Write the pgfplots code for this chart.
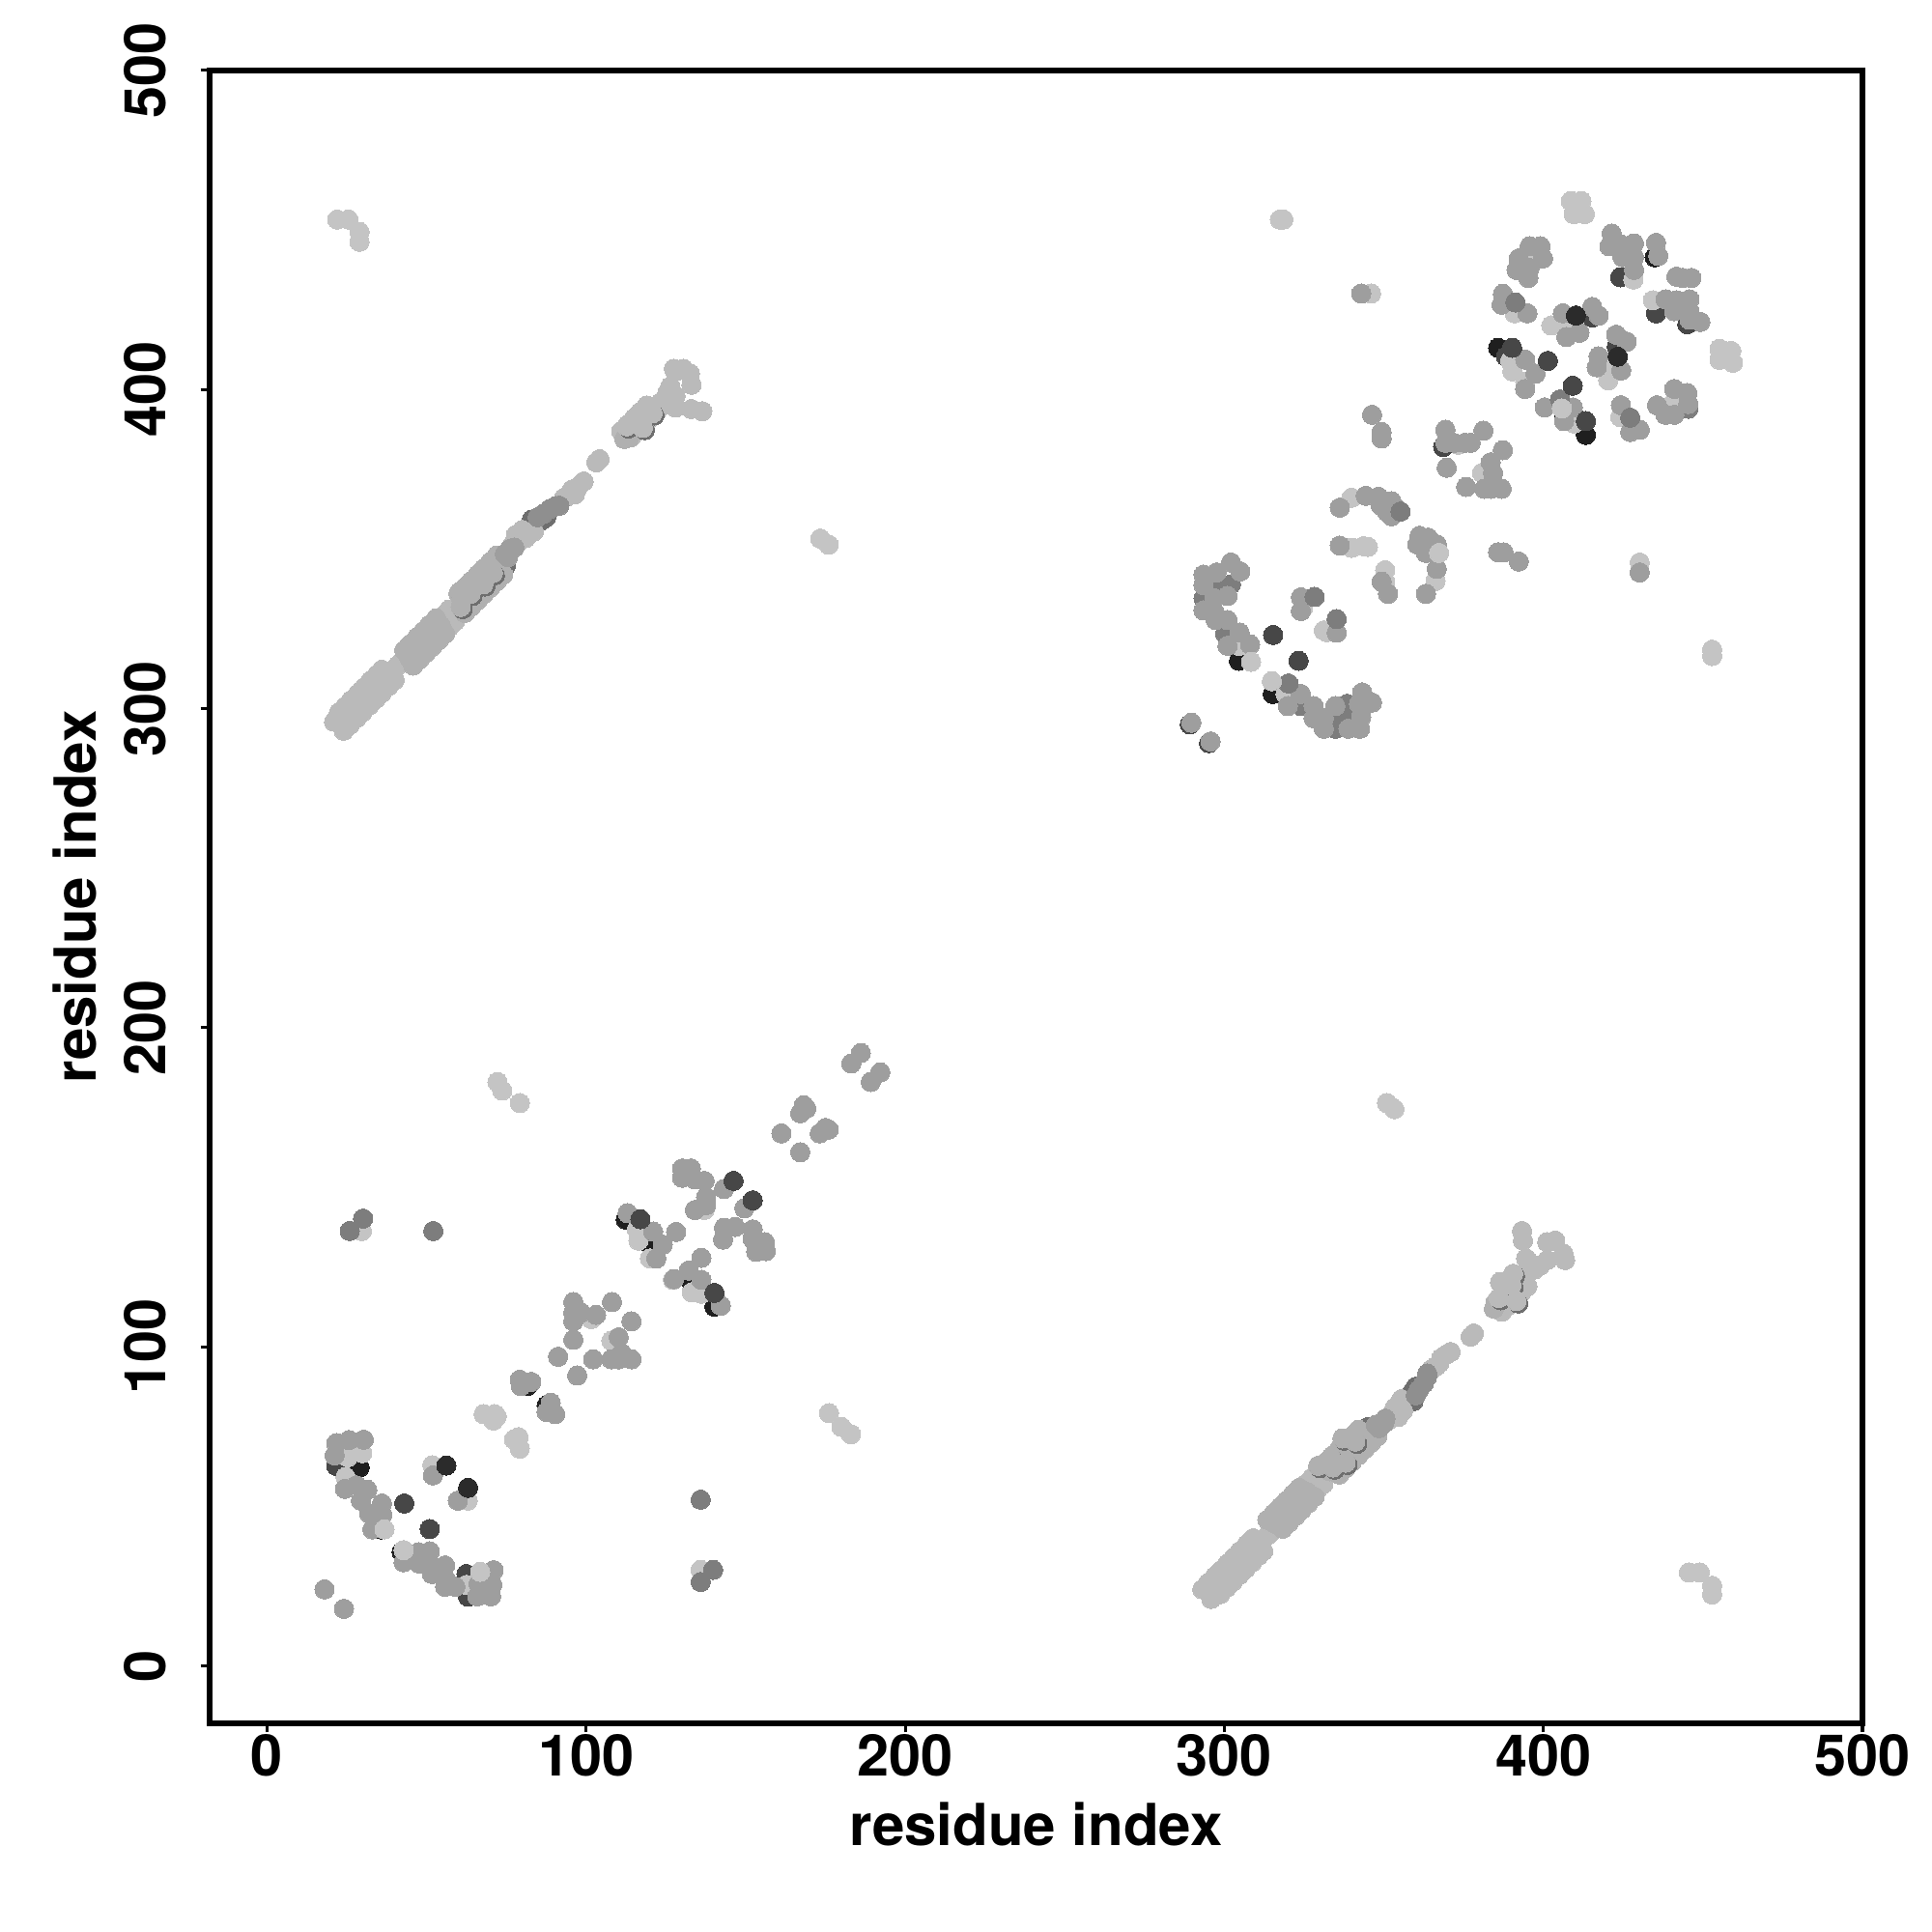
\documentclass[border=0pt]{standalone}
\usepackage{fontspec}
\setmainfont{TeX Gyre Heros}
\usepackage{pgfplots}
\pgfplotsset{compat=1.18}
\definecolor{gblack}{gray}{0.12}
\definecolor{gdark}{gray}{0.28}
\definecolor{gunder}{gray}{0.43}
\definecolor{gslate}{gray}{0.49}
\definecolor{gsteel}{gray}{0.56}
\definecolor{glight}{gray}{0.77}
\definecolor{gband}{gray}{0.73}
\definecolor{gbm}{gray}{0.69}
\definecolor{gmid}{gray}{0.62}
\definecolor{gink}{gray}{0.17}
\pgfplotsset{dot/.style={only marks,mark=*,mark size=3.6pt,color=#1,mark options={line width=0pt}}}
\begin{document}
\begin{tikzpicture}
\path[use as bounding box] (-78.12pt,-77.76pt) rectangle (641.88pt,642.24pt);
\begin{axis}[
  at={(0pt,0pt)},anchor=south west,
  scale only axis,width=615.96pt,height=615.96pt,
  xmin=-18,xmax=500,ymin=-18,ymax=500,
  xtick={0,100,...,500},ytick={0,100,...,500},
  xtick pos=left,ytick pos=left,tick align=outside,
  major tick length=3.4pt,
  every tick/.style={black,line width=1.1pt},
  axis line style={line width=2.2pt},
  /pgf/number format/assume math mode=true,
  ticklabel style={font=\fontsize{21.4}{25}\selectfont\bfseries},
  xticklabel style={anchor=center,yshift=-8.5pt},
  yticklabel style={rotate=90,anchor=center,yshift=20.6pt},
  xlabel={residue index},ylabel={residue index},
  label style={font=\fontsize{21.6}{25}\selectfont\bfseries},
  xlabel style={at={(axis description cs:0.5,0)},anchor=center,yshift=-37.7pt},
  ylabel style={at={(axis description cs:0,0.5)},anchor=center,yshift=50.4pt},
]
% under, almost black
\addplot[dot=gblack] coordinates {(24.6,62)(29,62.2)(35.7,42.8)(42.2,35.7)(81.5,87.7)(87.6,81.6)
 (112.4,139.9)(120,135.8)(120,132.1)(132.6,121)(140.2,112.6)
 (304.6,315)(315.2,304.6)(392.3,409.7)(385.8,413.1)(413.3,385.8)(434.9,441.5)(406.5,392.5)};
% under, dark
\addplot[dot=gdark] coordinates {(21.7,62.7)(62.5,28.8)(63,21.7)(368.6,382)(415.3,422.6)
 (289.2,295.1)(295.2,289.2)(424.1,435.2)(435.3,423.9)(445.1,420.5)(423,413.5)(388.3,410.4)(409.5,392)};
% under, the band tips
\addplot[dot=gunder] coordinates {(74.8,344.8)(83,359.3)(84.5,358.5)(86,359)(87.5,360)
 (344.8,74.8)(359.3,83)(358.5,84.5)(359,86)(360,87.5)};
\addplot[dot=gslate] coordinates {(297.6,338.7)(302.1,339)(293.5,334.6)(300.3,323.5)(324,300.8)(334.8,297)
 (334.8,293.7)(338.5,301.5)(338.2,297.4)(445.4,394)};
% light
\addplot[dot=glight] coordinates {(25.3,65.4)(29.8,66.7)(24.6,59.2)(51.8,62.9)(62.9,51.8)(62.5,25.4)
 (71.3,78.9)(67.9,78.9)(72,78.2)(70.9,76.9)(77.4,71)(78.8,71.7)(79.2,68.1)
 (101.7,108.7)(107.9,101.9)(115.9,136.8)(116.4,133.3)(120,127.7)(127.2,121)(133.1,117.1)(136.1,116.6)(137.1,142.9)
 (72.2,183)(73.7,180.3)(79.2,176.4)(135.9,30.1)(176.1,79.2)(180,74.9)(183,72.6)(29.7,136.3)
 (22,453.3)(25.5,453.3)(29,449.4)(29,446.3)(317.4,453.3)(318.5,453.3)(346,430.1)
 (173.4,353.3)(176,351.4)(351,176.4)(353.3,174.5)(445.6,29.3)(449,29.3)(452.9,25.1)(452.9,22.4)
 (452.9,316.5)(452.9,318.5)(430.2,345.8)
 (304.6,319.7)(319.2,304.6)(324.7,331.6)(331.2,324.5)(332.1,324)(339.9,366.1)(339.9,350.4)(343.6,350.9)(345,350.7)
 (350.4,343.4)(350.4,339.8)(366.2,340)(373.4,382.7)(380.8,373.9)
 (408.6,459.1)(411.9,459.1)(409.5,455)(413,455)(455.2,412.8)(458.9,412.1)(455.2,409.3)(459.4,408.4)
 (395.7,440.8)(428.2,434.5)(434.3,428)(391,423.9)(402.5,420.1)(406.5,419.9)(389.6,409)(390.3,405.7)(394.3,402.5)
 (420.3,402.9)(419.5,406)(409.6,389.4)(424.1,391.4)(440.4,395.5)};
% diagonal bands, the lighter stretches
\addplot[dot=gband] coordinates {(21,295.9)(22.5,298.7)(24.5,300.7)(26.5,302.7)(28.5,304.7)(30.5,306.7)(32.5,308.7)(34.5,310.7)(36,312.2)
 (24,293.1)(26,295)(28,297)(30,299)(32,301)(34,303)(36,305)(38,307)(40,309)
 (23.5,296.5)(25.5,298.5)(27.5,300.5)(29.5,302.5)(31.5,304.5)(33.5,306.5)(35.5,308.5)(37.5,310.5)
 (39.5,312)(41,313.6)(42,314.6)(55,329)(57,331)(57,325.5)(59,327.5)(56,327.5)(58,329.5)
 (77,351.4)(78,354.5)(79,352.5)(80,356)(81,353.5)(82,354.5)(83.6,355.5)
 (93.1,366.1)(94,366.5)(95.6,368.7)(96.5,367.2)(97.5,369.5)(99.2,371.2)(103.2,377.2)(104.2,378.2)
 (111,387)(113,389)(115,391)(117,393)(119,395)(114,385)(116,387)(118,389)(120,391)(122,393)(124,395)
 (123.4,396)(125.9,397)(126.4,401)(128,394.4)(129,406)(127.5,406.5)(130.5,406.5)(132.5,405)(133,401.5)(133,393.9)(136.4,393.2)(125.5,399)(128,398)
 (295.9,21)(298.7,22.5)(300.7,24.5)(302.7,26.5)(304.7,28.5)(306.7,30.5)(308.7,32.5)(310.7,34.5)(312.2,36)
 (293.1,24)(295,26)(297,28)(299,30)(301,32)(303,34)(305,36)(307,38)(309,40)
 (296.5,23.5)(298.5,25.5)(300.5,27.5)(302.5,29.5)(304.5,31.5)(306.5,33.5)(308.5,35.5)(310.5,37.5)
 (312,39.5)(313.6,41)(314.6,42)(329,55)(331,57)(325.5,57)(327.5,59)(327.5,56)(329.5,58)
 (351.4,77)(354.5,78)(352.5,79)(356,80)(353.5,81)(354.5,82)(355.5,83.6)
 (364.8,92.9)(366.5,94)(367.4,94.9)(368,96.5)(369.5,97.5)(370.9,98.4)(377.2,103.2)(378.2,104.2)
 (387,111)(389,113)(391,115)(393,117)(395,119)(385,114)(387,116)(389,118)(391,120)(393,122)(395,124)
 (393.3,136.3)(393.6,133.3)(394.6,127.7)(401.2,132.8)(403.7,133.3)(406.3,129.2)(406.8,127.2)(397.2,124.2)(401.2,127.2)(399,125.5)};
% diagonal bands, the streaked stretches
\addplot[dot=gbm] coordinates {(43,318.3)(45,320.3)(47,322.3)(49,324.3)(51,326.3)(53,328.3)
 (45.8,313.5)(47.8,315.5)(49.8,317.5)(51.8,319.5)(53.8,321.5)(55.8,323.5)
 (44.5,316)(46.5,318)(48.5,320)(50.5,322)(52.5,324)(54.5,326)
 (60,336)(62,338)(64,340)(66,342)(68,344)(70,346)(72,348)
 (61,333)(63,335)(65,337)(67,339)(69,341)(71,343)(73,345)
 (62,330)(64,332)(66,334)(68,336)(70,338)(72,340)(74,342)
 (112,384.5)(113.5,385)
 (318.3,43)(320.3,45)(322.3,47)(324.3,49)(326.3,51)(328.3,53)
 (313.5,45.8)(315.5,47.8)(317.5,49.8)(319.5,51.8)(321.5,53.8)(323.5,55.8)
 (316,44.5)(318,46.5)(320,48.5)(322,50.5)(324,52.5)(326,54.5)
 (336,60)(338,62)(340,64)(342,66)(344,68)(346,70)(348,72)
 (333,61)(335,63)(337,65)(339,67)(341,69)(343,71)(345,73)
 (330,62)(332,64)(334,66)(336,68)(338,70)(340,72)(342,74)
 (384.5,112)(385,113.5)};
% dark streaks in the bands, mostly covered by the next series
\addplot[dot=gunder] coordinates {(61.3,331.2)(60.8,335.8)(64.4,335.3)(64.9,338.8)(68.4,338.3)(68.9,342.9)(71.4,341.8)
 (113.3,387.8)(117.4,391.9)(121.4,391.9)(118.4,387.3)
 (330,62)(334,64.6)(334.6,61.5)(337.6,70.6)(338.6,63)(341.6,69.6)
 (391.1,122.2)(390.6,118.6)(387,119.6)(386.6,114.6)(392.1,113.6)};
\addplot[dot=gbm] coordinates {(60.7,331.9)(60.2,336.5)(63.8,336)(64.3,339.5)(67.8,339)(68.3,343.6)(70.8,342.5)
 (329.4,62.7)(333.4,65.3)(334,62.2)(337,71.3)(338,63.7)(341,70.3)};
\addplot[dot=gband] coordinates {(112.7,388.5)(116.8,392.6)(120.8,392.6)(117.8,388)
 (390.5,122.9)(390,119.3)(386.4,120.3)(386,115.3)(391.5,114.3)};
% mid grey points
\addplot[dot=gmid] coordinates {(18,24)(24.1,17.9)(21.7,69.8)(25.7,70.8)(30.3,70.9)(21.2,66)(24.4,55.5)(28,56.6)(31.4,55.2)(29.4,51.8)
 (36,50.9)(32,47.8)(36.1,47.4)(33,42.8)(52,59.7)(59.8,51.8)(42.8,32.5)(47.4,35.6)(51,35.9)(47.6,32.1)(51.7,31.5)(51.7,28.8)
 (55.8,31.5)(55.8,27.5)(55.8,24.8)(59,24.8)(71,30)(70.6,25.4)(70.2,21.8)(65.9,21.8)(66.3,25.7)
 (79.2,89.7)(82.8,89)(79.5,87.7)(88.9,82.5)(87.6,79.6)(90.3,78.9)(91.2,96.9)(97.2,91)(96,102.2)(102.2,96.1)
 (96,114)(96,110.7)(96,108)(98.4,110.7)(103.1,110)(108.1,114)(114.2,108)(110.2,103)(107.9,96.1)(111.2,98)(110.2,96.1)(114.2,96.1)
 (186.1,192.1)(183.1,188.8)(192.2,186)(189.2,183)(168.2,175.7)(167.1,173.2)(169,174.7)(175,168.6)(173.2,166.9)(176,168.1)(161.2,166.9)(167.1,161)
 (130.1,155.9)(132.8,155.9)(130.1,153)(134.1,152.5)(137.1,152)(143.2,149.5)(149.6,143.4)(137.6,146.9)(137.6,144.4)(134.1,142.9)
 (143.2,137.3)(146.7,137.6)(142.9,133.6)(152.2,136.8)(152.2,133.8)(156,132.8)(153.3,129.8)(156.3,130)
 (113,141.9)(121,136.1)(124,132)(128.2,136)(122,127.7)(136.1,127.9)(132.1,123.9)(136.1,121)(127.5,121.2)(142.2,112.9)
 (74.5,348.5)(76,350)(77.5,350.5)(75.5,347.5)(342.9,430.1)
 (348.5,74.5)(350,76)(350.5,77.5)(347.5,75.5)
 (289.7,295.6)(295.7,289.7)
 (293.5,342)(297.6,342.7)(302.1,345.8)(305,343)(293.5,338.7)(296.9,334.6)(301,335.3)(293.5,330.8)(296.9,330.3)(297.3,327.8)(301,327.8)
 (304.8,323.8)(301,319.7)(308.1,320.1)(324,334.9)(324,330.6)(335.2,323.8)(319.9,300.8)(324,304.6)(328,300.8)(328,297)(331.2,293.7)(331.2,297)(334.8,300.8)
 (338.9,293.7)(342.5,293.7)(342.9,297.4)(343.2,305.1)(346.3,301.9)(342.2,301.5)
 (336.2,363)(344.3,366.7)(348.3,366.4)(352.4,365)(349,363.7)(351,361.7)(353.7,363)(352.4,360.3)
 (361.2,354.2)(363.9,353.6)(366.6,351.5)(360.5,351.5)(363.2,348.8)(366.6,343.8)(363.2,336)(336.2,351.1)(349.3,339.8)(351.3,336)
 (346.3,392.1)(349.3,386.7)(349.3,384.7)(369.3,387.4)(369.3,383.3)(372,383.3)(375.4,383.3)(377.2,383.3)(381.2,387.1)(387.3,381)(369.7,375.5)(375.8,369.5)
 (383.5,377.2)(384.2,373.9)(384.2,371.1)(381.5,368.9)(386.9,368.9)(383.5,368.9)(385.8,349)(387.5,349)(392.3,346.1)(430.2,342.7)
 (395.7,444.9)(399.1,444.9)(392.3,441.1)(399.9,441.1)(391.6,437.5)(395.7,438.1)(395.3,435)
 (421.4,448.9)(420.7,444.9)(424.1,445.6)(428.4,445.8)(424.8,441.5)(428.4,441.5)(428.4,437.5)(435.3,446)(436,441.9)
 (441.7,435.4)(443.7,435)(446.4,435)(438.3,428.3)(441.7,428)(445.8,428.3)(441,424.6)(445.8,424.6)(449.2,421.2)(445.8,421.9)
 (387.3,430)(386.9,426.6)(395,423.9)(406.1,423.9)(415.3,425.9)(417.3,423.2)(411.3,417.8)(407.2,416.5)
 (394.3,409.4)(397.5,405)(394.3,400.2)(422.8,417.2)(426.1,415)(417.3,410.4)(416.7,407)(424.4,406)
 (400.4,394.4)(409.2,394.4)(406.5,390.1)(424.3,395.1)(427.2,386.7)(430.2,387.4)(435.6,395.1)(438.3,392.1)(441,400.2)(441,392.1)(445.1,398.9)(445.4,395.5)};
% the darker stretch of each band
\addplot[dot=gsteel] coordinates {(84.8,360)(86.5,361)(88.6,362.6)(90.5,363.5)(91.6,363.6)
 (360,84.8)(361,86.5)(362.6,88.6)(363.5,90.5)(363.6,91.6)};
% darker grey on top
\addplot[dot=gslate] coordinates {(25.9,136.3)(30.1,140.2)(52.1,136.3)(135.9,52.1)(139.8,30.1)(135.9,26.3)
 (328.3,335)(335.2,328.1)(320.1,307.9)(355.2,361.8)(391.2,427.3)(427.2,391.2)(405.2,396.9)};
% dark on top
\addplot[dot=gdark] coordinates {(43,50.9)(51,42.9)(315.3,323.1)(323.3,315)(117,140)(140.2,116.9)(401.4,409)(409.2,401.2)
 (146.2,152)(152.2,145.9)(413.3,390.1)(390.2,413.1)};
% darkest on top
\addplot[dot=gink] coordinates {(56.2,62.8)(63,55.8)(410.2,423.2)(423.3,410.3)};
% light on top
\addplot[dot=glight] coordinates {(36.8,42.8)(42.8,36.3)(66.8,29.5)(308.4,314.7)(314.9,308.6)(367.3,348.8)(405.8,394.1)};
\end{axis}
\end{tikzpicture}
\end{document}
